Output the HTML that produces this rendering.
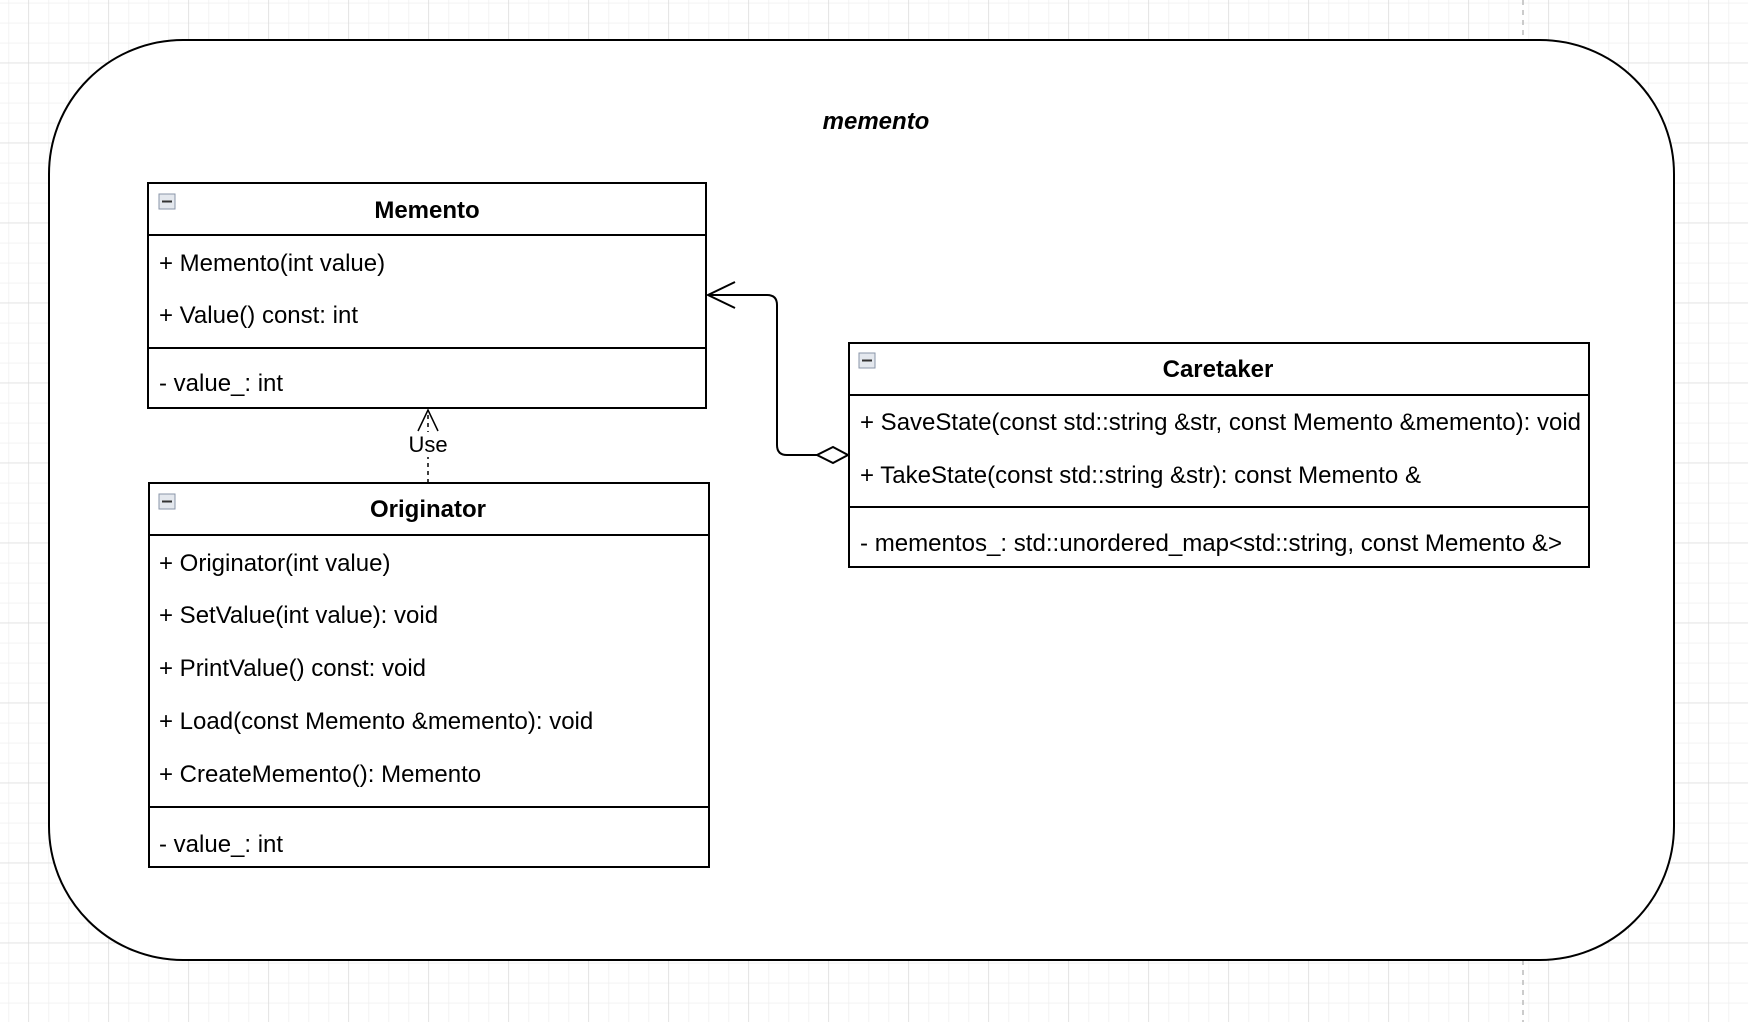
<!DOCTYPE html>
<html><head><meta charset="utf-8"><style>
html,body{margin:0;padding:0;background:#fff;}
svg{display:block;}
text{font-family:"Liberation Sans",Arial,sans-serif;fill:#000;}
</style></head><body>
<svg width="1748" height="1022" viewBox="0 0 1748 1022" xmlns="http://www.w3.org/2000/svg">
<defs>
<pattern id="minor" x="8.3" y="2.7" width="20" height="20" patternUnits="userSpaceOnUse">
<path d="M0 0H20M0 0V20" stroke="#efefef" stroke-width="1.5" fill="none"/>
</pattern>
<pattern id="major" x="28.3" y="62.7" width="80" height="80" patternUnits="userSpaceOnUse">
<path d="M0 0H80M0 0V80" stroke="#d6d6d6" stroke-width="1" fill="none"/>
</pattern>
</defs>
<rect width="1748" height="1022" fill="url(#minor)"/>
<rect width="1748" height="1022" fill="url(#major)"/>
<line x1="1523" y1="0" x2="1523" y2="1022" stroke="#bbb" stroke-width="1.5" stroke-dasharray="5,5"/>
<rect x="49" y="40" width="1625" height="920" rx="134" ry="134" fill="#fff" stroke="#000" stroke-width="2"/>
<text x="876" y="129" font-size="24" font-weight="bold" font-style="italic" text-anchor="middle">memento</text>

<!-- Memento -->
<rect x="148" y="183" width="558" height="225" fill="#fff" stroke="#000" stroke-width="2"/>
<line x1="148" y1="235" x2="706" y2="235" stroke="#000" stroke-width="2"/>
<line x1="148" y1="348" x2="706" y2="348" stroke="#000" stroke-width="2"/>
<rect x="159" y="194" width="16" height="15" fill="#e4e8ee" stroke="#8a96a8" stroke-width="1"/>
<line x1="162" y1="201.5" x2="172" y2="201.5" stroke="#333" stroke-width="2"/>
<text x="427" y="218" font-size="24" font-weight="bold" text-anchor="middle">Memento</text>
<text x="159" y="271" font-size="24">+ Memento(int value)</text>
<text x="159" y="323" font-size="24">+ Value() const: int</text>
<text x="159" y="391" font-size="24">- value_: int</text>

<!-- Originator -->
<rect x="149" y="483" width="560" height="384" fill="#fff" stroke="#000" stroke-width="2"/>
<line x1="149" y1="535" x2="709" y2="535" stroke="#000" stroke-width="2"/>
<line x1="149" y1="807" x2="709" y2="807" stroke="#000" stroke-width="2"/>
<rect x="159" y="494" width="16" height="15" fill="#e4e8ee" stroke="#8a96a8" stroke-width="1"/>
<line x1="162" y1="501.5" x2="172" y2="501.5" stroke="#333" stroke-width="2"/>
<text x="428" y="517" font-size="24" font-weight="bold" text-anchor="middle">Originator</text>
<text x="159" y="571" font-size="24">+ Originator(int value)</text>
<text x="159" y="623" font-size="24">+ SetValue(int value): void</text>
<text x="159" y="676" font-size="24">+ PrintValue() const: void</text>
<text x="159" y="729" font-size="24">+ Load(const Memento &amp;memento): void</text>
<text x="159" y="782" font-size="24">+ CreateMemento(): Memento</text>
<text x="159" y="852" font-size="24">- value_: int</text>

<!-- Caretaker -->
<rect x="849" y="343" width="740" height="224" fill="#fff" stroke="#000" stroke-width="2"/>
<line x1="849" y1="395" x2="1589" y2="395" stroke="#000" stroke-width="2"/>
<line x1="849" y1="507" x2="1589" y2="507" stroke="#000" stroke-width="2"/>
<rect x="859" y="353" width="16" height="15" fill="#e4e8ee" stroke="#8a96a8" stroke-width="1"/>
<line x1="862" y1="360.5" x2="872" y2="360.5" stroke="#333" stroke-width="2"/>
<text x="1218" y="377" font-size="24" font-weight="bold" text-anchor="middle">Caretaker</text>
<text x="860" y="430" font-size="24" textLength="721" lengthAdjust="spacingAndGlyphs">+ SaveState(const std::string &amp;str, const Memento &amp;memento): void</text>
<text x="860" y="483" font-size="24" textLength="561" lengthAdjust="spacingAndGlyphs">+ TakeState(const std::string &amp;str): const Memento &amp;</text>
<text x="860" y="551" font-size="24" textLength="702" lengthAdjust="spacingAndGlyphs">- mementos_: std::unordered_map&lt;std::string, const Memento &amp;&gt;</text>

<!-- Use dependency -->
<line x1="428" y1="483" x2="428" y2="410" stroke="#000" stroke-width="1.5" stroke-dasharray="4,4"/>
<path d="M418 431 L428 410 L438 431" fill="none" stroke="#000" stroke-width="1.5"/>
<rect x="406" y="432" width="44" height="25" fill="#fff"/>
<text x="428" y="452" font-size="22" text-anchor="middle">Use</text>

<!-- Aggregation -->
<path d="M817 455 H787 Q777 455 777 445 V305 Q777 295 767 295 H708" fill="none" stroke="#000" stroke-width="2"/>
<path d="M735 282 L708 295 L735 308" fill="none" stroke="#000" stroke-width="2"/>
<path d="M848 455 L833 447 L817 455 L833 463 Z" fill="#fff" stroke="#000" stroke-width="2"/>
</svg>
</body></html>
